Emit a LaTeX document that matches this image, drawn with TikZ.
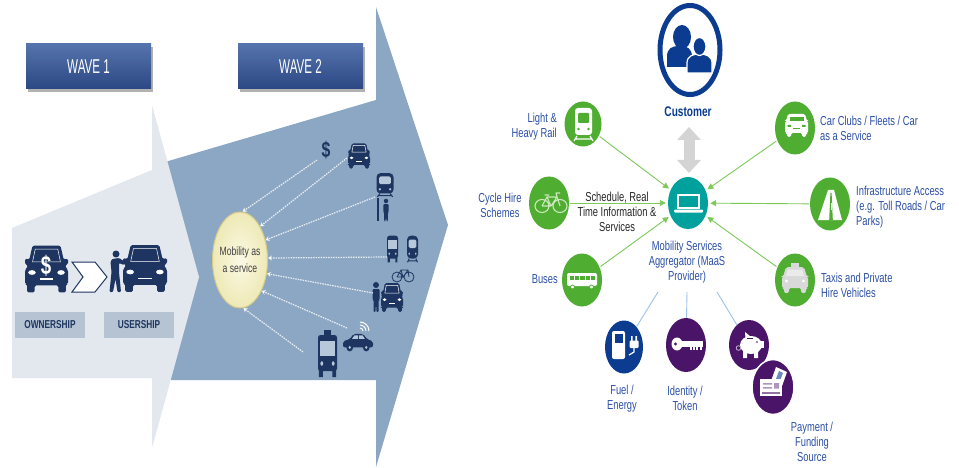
\documentclass[tikz,border=0pt]{standalone}
\usepackage{fontspec}
\setmainfont[FakeStretch=0.72]{Liberation Sans}
\newfontfamily\narrowfont[FakeStretch=0.58]{Liberation Sans}
\usetikzlibrary{arrows.meta,shapes.geometric}

\definecolor{navy}{HTML}{1D3560}
\definecolor{steel}{HTML}{8CA7C3}
\definecolor{mist}{HTML}{E3E8EE}
\definecolor{tagfill}{HTML}{B5C3D2}
\definecolor{wavetop}{HTML}{5573AD}
\definecolor{wavebot}{HTML}{2C4884}
\definecolor{maasin}{HTML}{FBF9E4}
\definecolor{maasout}{HTML}{EEE9B6}
\definecolor{maasline}{HTML}{D6CC86}
\definecolor{leaf}{HTML}{4FAE32}
\definecolor{leafline}{HTML}{7DC95A}
\definecolor{bikec}{HTML}{CBE8BC}
\definecolor{tealc}{HTML}{00A09C}
\definecolor{royal}{HTML}{0B3C90}
\definecolor{grape}{HTML}{4A1468}
\definecolor{labelblue}{HTML}{2C50A5}
\definecolor{skyline}{HTML}{9CC2E8}
\definecolor{fog}{HTML}{D4D4D4}
\definecolor{taxigray}{HTML}{D9D9D9}
\definecolor{hole}{HTML}{B7C8DA}

\tikzset{
  wavebox/.style={rectangle, minimum width=125, minimum height=45,
    top color=wavetop, bottom color=wavebot, text=white,
    font=\narrowfont\fontsize{20}{22}\selectfont},
  tagbox/.style={rectangle, fill=tagfill, minimum width=70, minimum height=26,
    text=navy, font=\bfseries\fontsize{11.5}{12}\selectfont},
  flowline/.style={white, opacity=0.8, line width=1.2pt,
    dash pattern=on 1.5pt off 1pt, -{Stealth[length=4pt,width=5pt]}},
  greencirc/.style={ellipse, fill=leaf, minimum width=40, minimum height=53, inner sep=0},
  garrow/.style={leafline, line width=0.9pt, -{Triangle[length=6pt,width=6pt]},
    shorten >=2pt, shorten <=1pt},
  blueline/.style={skyline, line width=0.9pt},
  lbl/.style={text=labelblue, font=\fontsize{13}{15}\selectfont, inner sep=0},
  % car seen from the front, drawn in a 40 x 40 box
  carfront/.pic={
    \fill[navy, rounded corners=1.5pt] (-13,-20) -- (13,-20) -- (16,-8) -- (20,-9) -- (20,-4)
      -- (17,-3) -- (20,1) -- (20,13) -- (18,13) -- (18,20) -- (11,20) -- (11,14) -- (-11,14)
      -- (-11,20) -- (-18,20) -- (-18,13) -- (-20,13) -- (-20,1) -- (-17,-3) -- (-20,-4)
      -- (-20,-9) -- (-16,-8) -- cycle;
    \draw[white, line width=0.5pt] (-10.5,-17) -- (10.5,-17) -- (13,-6) -- (-13,-6) -- cycle;
    \fill[white] (-13.5,3) ellipse (3.5 and 2);
    \fill[white] (13.5,3) ellipse (3.5 and 2);
    \fill[white] (-6,8) rectangle (6,9);
  },
  % bus / van front, 20 x 28 box
  busfront/.pic={
    \fill[navy, rounded corners=2.5pt] (-10,-14) rectangle (10,10);
    \fill[hole] (-7.5,-10) rectangle (7.5,0);
    \fill[hole] (-6,5) circle (1.5) (6,5) circle (1.5);
    \fill[navy] (-9,9) rectangle (-5,14) (5,9) rectangle (9,14);
  },
  % train front, 20 x 28 box
  trainfront/.pic={
    \fill[navy, rounded corners=4pt] (-10,-14) rectangle (10,10);
    \fill[hole, rounded corners=1.5pt] (-7,-10) rectangle (7,-1);
    \fill[hole] (-6,5) circle (1.4) (6,5) circle (1.4);
    \draw[navy, line width=1pt] (-6,10) -- (-9,14) (6,10) -- (9,14) (-8,12.5) -- (8,12.5);
  },
  % standing person, 8 x 30 box
  walker/.pic={
    \fill[navy] (0,-12) circle (3);
    \fill[navy, rounded corners=1pt] (-3.5,-8) -- (3.5,-8) -- (3.5,3) -- (2.5,3) -- (2.5,15)
      -- (0.5,15) -- (0,5) -- (-0.5,15) -- (-2.5,15) -- (-2.5,3) -- (-3.5,3) -- cycle;
  },
  % car seen from the side, 40 x 20 box
  carside/.pic={
    \fill[navy, rounded corners=2pt] (-20,6) -- (-20,-1) -- (-11,-3) -- (-6,-9) -- (7,-9)
      -- (12,-3) -- (20,-1) -- (20,6) -- cycle;
    \fill[hole] (-8,-3.5) -- (-4.5,-7.5) -- (0,-7.5) -- (0,-3.5) -- cycle;
    \fill[hole] (1.5,-3.5) -- (1.5,-7.5) -- (6,-7.5) -- (9,-3.5) -- cycle;
    \fill[navy] (-11,6) circle (4.5) (11,6) circle (4.5);
    \fill[hole] (-11,6) circle (1.7) (11,6) circle (1.7);
  },
}

\begin{document}
\begin{tikzpicture}[x=1pt, y=-1pt]
\useasboundingbox (0,0) rectangle (959,468);
\fill[white] (0,0) rectangle (959,468);

% ---------------- two waves ----------------
\fill[steel] (165,162) -- (376,100) -- (376,7) -- (448,225) -- (376,467) -- (376,380)
  -- (165,380) -- cycle;
\fill[mist] (12,228) -- (152,170) -- (152,105) -- (199,277) -- (152,448) -- (152,378)
  -- (12,378) -- cycle;

\fill[black!30] (28,47) rectangle (153,92);
\fill[black!30] (240,47) rectangle (365,92);
\node[wavebox] (w1) at (88.5,66.5) {WAVE 1};
\node[wavebox] (w2) at (300.5,66.5) {WAVE 2};

% ownership -> usership
\pic[xscale=1.075, yscale=1.17] at (46.5,269) {carfront};
\node[text=white, font=\bfseries\fontsize{26}{26}\selectfont, inner sep=0] (cash) at (46,266) {\$};
\filldraw[fill=white, draw=navy, line width=1pt] (72,262) -- (95,262) -- (107,277) -- (95,292)
  -- (72,292) -- (83,277) -- cycle;
\fill[navy] (116,254) circle (3.5);
\fill[navy, rounded corners=1pt] (112,259) -- (119,258) -- (125,262) -- (124,265) -- (119,263)
  -- (119,272) -- (121,292) -- (117.5,292) -- (115.5,279) -- (113,292) -- (109.5,292)
  -- (111.5,272) -- (110.5,262) -- cycle;
\pic[xscale=1.1, yscale=1.17] at (145,268.5) {carfront};
\node[tagbox] (own) at (50,325) {OWNERSHIP};
\node[tagbox] (use) at (139,325) {USERSHIP};

% mobility as a service hub
\node[ellipse, inner color=maasin, outer color=maasout, draw=maasline, line width=1pt,
  minimum width=55, minimum height=96, inner sep=0] (maas) at (240,260) {};
\node[align=center, text=black!75, font=\fontsize{12}{17}\selectfont, inner sep=0]
  (maastext) at (240,260) {Mobility as\\a service};

% modes feeding the hub
\node[text=navy, font=\bfseries\fontsize{22}{22}\selectfont, inner sep=0] (dollar) at (326,150) {\$};
\pic[xscale=0.55, yscale=0.63] at (359,156) {carfront};
\pic[xscale=0.85, yscale=0.85] at (385,185) {trainfront};
\pic[scale=0.75] at (386,210) {walker};
\draw[navy, line width=1.5pt] (378,198) -- (378,221);
\pic[xscale=0.55, yscale=0.95] at (392.5,249) {busfront};
\pic[xscale=0.55, yscale=0.95] at (412.5,249) {trainfront};
\draw[navy, line width=0.8pt] (397,277) circle (5) (409,277) circle (5)
  (397,277) -- (401,270) -- (408,270) -- (409,277) (401,270) -- (403,277) -- (408,270)
  (397,277) -- (403,277);
\pic[scale=1] at (376,297) {walker};
\pic[xscale=0.55, yscale=0.72] at (392,297.5) {carfront};
\pic[xscale=0.75, yscale=0.9] at (358,342) {carside};
\foreach \r in {3,6,9}
  \draw[white, line width=1pt] (360+\r,331) arc[start angle=0, end angle=-90, radius=\r];
\fill[navy] (324,330) rectangle (331,335);
\pic[xscale=0.95, yscale=1.5] at (327.5,356) {busfront};

\coordinate (d1) at (317,160);
\coordinate (d2) at (347,158);
\coordinate (d3) at (375,197);
\coordinate (d4) at (387,257);
\coordinate (d5) at (373,293);
\coordinate (d6) at (347,328);
\coordinate (d7) at (303,352);
\draw[flowline] (d1) -- (maas.87);
\draw[flowline] (d2) -- (maas.59);
\draw[flowline] (d3) -- (maas.38);
\draw[flowline] (d4) -- (maas.4);
\draw[flowline] (d5) -- (maas.-27);
\draw[flowline] (d6) -- (maas.-55);
\draw[flowline] (d7) -- (maas.-86);

% ---------------- MaaS ecosystem ----------------
% customer
\node[ellipse, draw=royal, line width=5pt, fill=white, minimum width=60, minimum height=89,
  inner sep=0] (cust) at (690,50) {};
\fill[royal] (682,37) ellipse (9 and 12);
\fill[royal] (667,67) -- (667,57) .. controls (667,48) and (672,46) .. (679.5,46)
  .. controls (687,46) and (692,48) .. (692,57) -- (692,67) -- cycle;
\filldraw[fill=royal, draw=white, line width=1.2pt] (687,73) -- (687,63)
  .. controls (687,56) and (693,54) .. (699.5,54) .. controls (706,54) and (712,56) .. (712,63)
  -- (712,73) -- cycle;
\filldraw[fill=royal, draw=white, line width=1.2pt] (699.5,46.5) ellipse (6.5 and 9);
\node[text=royal, font=\bfseries\fontsize{14}{15}\selectfont, inner sep=0] (custlbl) at (688,112) {Customer};

% aggregator
\node[ellipse, fill=tealc, minimum width=40, minimum height=52, inner sep=0] (agg) at (688,203) {};
\draw[white, line width=1.8pt] (678,195) rectangle (699,208);
\fill[white, rounded corners=1pt] (674,209.5) rectangle (703,212.5);
\node[lbl, align=center] (agglbl) at (687,262) {Mobility Services\\Aggregator (MaaS\\Provider)};

\coordinate (ga) at (689,127);
\coordinate (gb) at (689,173);
\draw[fog, line width=11pt, {Triangle[length=13pt,width=23pt]}-{Triangle[length=13pt,width=23pt]}] (ga) -- (gb);

% transport providers
\node[greencirc, minimum width=37, minimum height=45] (rail) at (583,124) {};
\node[greencirc] (club) at (795,128) {};
\node[greencirc] (cycle) at (549,203) {};
\node[greencirc] (infra) at (830,204) {};
\node[greencirc] (bus) at (582,280) {};
\node[greencirc] (taxi) at (795,280) {};

% rail icon
\fill[white, rounded corners=3pt] (575,108) rectangle (592,135);
\fill[leaf, rounded corners=1pt] (578,113) rectangle (589,123);
\fill[leaf] (578.5,129) circle (1.3) (588.5,129) circle (1.3);
\draw[white, line width=1.2pt] (577,136) -- (574,141) (590,136) -- (593,141) (576,139) -- (591,139);
% car club icon
\fill[white, rounded corners=1.5pt] (788,114) -- (805,114) -- (807,121) -- (808,121) -- (808,133)
  -- (806,133) -- (806,137) -- (802,137) -- (802,133) -- (791,133) -- (791,137) -- (787,137)
  -- (787,133) -- (785,133) -- (785,121) -- (786,121) -- cycle;
\fill[leaf] (789.5,117) rectangle (803.5,121);
\fill[leaf] (787.5,125) rectangle (791,127) (802,125) rectangle (805.5,127);
\fill[leaf] (793,128) rectangle (800,129.5);
% bicycle icon
\draw[bikec, line width=1.1pt, line join=round]
  (542,206) ellipse (7 and 6.5) (560,206) ellipse (7 and 6.5)
  (542,206) -- (547,197) -- (557,197) -- (560,206) (547,197) -- (551,206) -- (557,197)
  (542,206) -- (551,206) (544.5,195) -- (549,195) (557,197) -- (556,193) -- (560,193);
% road icon: two white lanes either side of a green centre line
\fill[white] (828,190) -- (834,190) -- (842,220) -- (818,220) -- cycle;
\fill[leaf] (830.4,193) -- (831.6,193) -- (832.8,220) -- (829.2,220) -- cycle;
\fill[white] (830.6,203) rectangle (831.5,210);
% bus icon
\fill[white, rounded corners=2pt] (567,273) rectangle (597,286);
\foreach \i in {0,...,4}
  \fill[leaf] (570+5.2*\i,275.5) rectangle (574.2+5.2*\i,279.5);
\filldraw[fill=white, draw=leaf, line width=0.8pt] (572.5,287) circle (2) (591.5,287) circle (2);
% taxi icon
\fill[taxigray] (791,263) rectangle (799,267);
\fill[taxigray, rounded corners=2pt] (786,267) -- (804,267) -- (807,277) -- (808,277) -- (808,288)
  -- (806,288) -- (806,293) -- (801,293) -- (801,288) -- (789,288) -- (789,293) -- (784,293)
  -- (784,288) -- (782,288) -- (782,277) -- (783,277) -- cycle;
\fill[white!92!black] (788,269.5) -- (802,269.5) -- (804,276) -- (786,276) -- cycle;
\fill[white] (786.5,281) circle (1.6) (803.5,281) circle (1.6);

\node[lbl, anchor=east, align=right] (raillbl) at (557,126.5) {Light \&\\Heavy Rail};
\node[lbl, anchor=west, align=left] (clublbl) at (820,128) {Car Clubs / Fleets / Car\\as a Service};
\node[lbl, align=center] (cyclelbl) at (500,205) {Cycle Hire\\Schemes};
\node[lbl, anchor=west, align=left] (infralbl) at (856,207) {Infrastructure Access\\(e.g. Toll Roads / Car\\Parks)};
\node[lbl, anchor=east] (buslbl) at (558,279) {Buses};
\node[lbl, anchor=west, align=left] (taxilbl) at (821,285) {Taxis and Private\\Hire Vehicles};
\node[lbl, text=black!85, align=center] (schedlbl) at (617,212) {Schedule, Real\\Time Information \&\\Services};

\draw[garrow] (rail) -- (agg);
\draw[garrow] (club) -- (agg);
\draw[garrow] (cycle) -- (agg);
\draw[garrow] (infra) -- (agg);
\draw[garrow] (bus) -- (agg);
\draw[garrow] (taxi) -- (agg);

% enabling services
\node[ellipse, fill=royal, minimum width=38, minimum height=53, inner sep=0] (fuel) at (624,347) {};
\node[ellipse, fill=grape, minimum width=40, minimum height=54, inner sep=0] (ident) at (686,345) {};
\node[ellipse, fill=grape, minimum width=40, minimum height=50, inner sep=0] (piggy) at (749,345) {};
\node[ellipse, fill=grape, draw=white, line width=1.5pt, minimum width=42, minimum height=55,
  inner sep=0] (pay) at (773,387) {};

% fuel icon
\fill[white, rounded corners=2pt] (612,331) rectangle (625,359);
\fill[royal] (614.5,334) rectangle (622.5,343);
\fill[white, rounded corners=1pt] (629.5,340.5) rectangle (638.5,348);
\fill[white] (631,336) rectangle (632.6,341) (635.4,336) rectangle (637,341);
\draw[white, line width=1.2pt] (634,348) -- (634,352) -- (629,355);
% key icon
\fill[white] (677,344) ellipse (5.5 and 6.5);
\fill[grape] (675.5,344) circle (1.6);
\fill[white] (681,341) rectangle (703,346.5);
\foreach \i in {0,...,3}
  \fill[white] (690+3.2*\i,346) rectangle (692+3.2*\i,349.5);
% piggy bank icon
\fill[white] (751,345) ellipse (11 and 9);
\fill[white] (745.5,339) -- (745,332) -- (751,337) -- cycle;
\fill[white] (760,341) rectangle (764,348);
\fill[white] (743,351) rectangle (747,358) (754,351) rectangle (758,358);
\fill[grape] (757,342) circle (0.9);
\draw[grape, line width=0.8pt] (747,338.5) -- (753,338.5);
\draw[white!70!grape, line width=0.8pt] (738.5,348) circle (2.3);
% payment icon
\fill[white] (776,367) -- (787,372) -- (781,389) -- (770,384) -- cycle;
\fill[royal!60] (779,371) -- (783,373) -- (778,386) -- (774,384) -- cycle;
\fill[white] (760,379) rectangle (782,396);
\fill[grape!45!white] (763,383) rectangle (772,384.5) (763,387) rectangle (772,388.5)
  (774,383) rectangle (779,388.5);
\fill[grape!60!white] (762,392) rectangle (780,393.5);

\coordinate (b1) at (658,292);
\coordinate (b2) at (687,292);
\coordinate (b3) at (717,292);
\draw[blueline] (b1) -- (fuel);
\draw[blueline] (b2) -- (ident);
\draw[blueline] (b3) -- (piggy);

\node[lbl, align=center] (fuellbl) at (622,399) {Fuel /\\Energy};
\node[lbl, align=center] (identlbl) at (685,398) {Identity /\\Token};
\node[lbl, align=center] (paylbl) at (812,442) {Payment /\\Funding\\Source};
\end{tikzpicture}
\end{document}
